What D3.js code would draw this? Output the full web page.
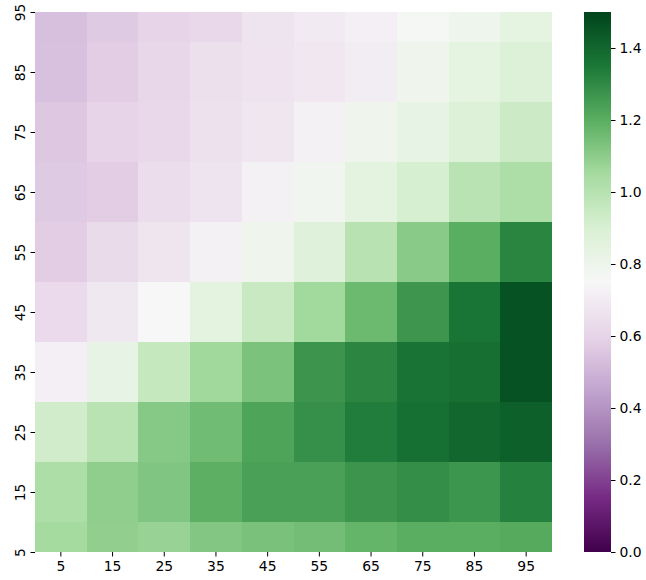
<!DOCTYPE html>
<html>
<head>
<meta charset="utf-8">
<script src="https://cdn.jsdelivr.net/npm/d3@7"></script>
<style>
  html, body { margin: 0; padding: 0; background: #fff; }
  svg { display: block; font-family: "DejaVu Sans", sans-serif; }
</style>
</head>
<body>
<svg id="chart" width="646" height="580"></svg>
<script>
// ---- data ----
const xCategories = [5, 15, 25, 35, 45, 55, 65, 75, 85, 95];
const yCategories = [95, 85, 75, 65, 55, 45, 35, 25, 15, 5];
const row95 = [0.535, 0.567, 0.600, 0.615, 0.670, 0.695, 0.716, 0.760, 0.795, 0.840];
const row85 = [0.540, 0.578, 0.613, 0.650, 0.665, 0.680, 0.707, 0.790, 0.840, 0.880];
const row75 = [0.558, 0.600, 0.615, 0.655, 0.677, 0.724, 0.790, 0.830, 0.885, 0.940];
const row65 = [0.568, 0.578, 0.639, 0.669, 0.724, 0.785, 0.845, 0.910, 0.995, 1.026];
const row55 = [0.578, 0.630, 0.673, 0.725, 0.790, 0.870, 0.998, 1.107, 1.200, 1.314];
const row45 = [0.625, 0.686, 0.750, 0.845, 0.947, 1.058, 1.164, 1.269, 1.360, 1.460];
const row35 = [0.716, 0.830, 0.960, 1.060, 1.135, 1.270, 1.310, 1.365, 1.375, 1.460];
const row25 = [0.927, 0.990, 1.113, 1.155, 1.229, 1.284, 1.335, 1.372, 1.400, 1.420];
const row15 = [1.030, 1.093, 1.125, 1.195, 1.238, 1.240, 1.270, 1.290, 1.268, 1.326];
const row5  = [1.050, 1.090, 1.077, 1.120, 1.137, 1.150, 1.180, 1.200, 1.200, 1.210];
const rows = [row95, row85, row75, row65, row55, row45, row35, row25, row15, row5];
const colorbarTicks = [0.0, 0.2, 0.4, 0.6, 0.8, 1.0, 1.2, 1.4];
const vMin = 0, vMax = 1.5;
// PRGn diverging palette (ColorBrewer 11-class), linearly interpolated
const prgnColors = ["#40004b", "#762a83", "#9970ab", "#c2a5cf", "#e7d4e8", "#f7f7f7",
                    "#d9f0d3", "#a6dba0", "#5aae61", "#1b7837", "#00441b"];

// ---- layout ----
const svg = d3.select("#chart");
const plot = { left: 35, right: 552, top: 12, bottom: 552 };
const cb = { left: 584, right: 611, top: 12, bottom: 552 };

const x = d3.scaleBand().domain(xCategories).range([plot.left, plot.right]).padding(0);
const y = d3.scaleLinear().domain([5, 95]).range([plot.bottom, plot.top]);
const color = d3.scaleLinear()
  .domain(prgnColors.map((c, i) => vMin + (vMax - vMin) * i / (prgnColors.length - 1)))
  .range(prgnColors)
  .interpolate(d3.interpolateRgb)
  .clamp(true);

const cells = [];
yCategories.forEach((yv, i) => {
  xCategories.forEach((xv, j) => cells.push({ x: xv, y: yv, v: rows[i][j] }));
});

svg.append("clipPath").attr("id", "plotclip")
  .append("rect")
  .attr("x", plot.left).attr("y", plot.top)
  .attr("width", plot.right - plot.left).attr("height", plot.bottom - plot.top);

svg.append("g").attr("clip-path", "url(#plotclip)")
  .selectAll("rect").data(cells).join("rect")
  .attr("x", d => x(d.x))
  .attr("width", x.bandwidth() + 0.5)
  .attr("y", d => y(d.y + 5))
  .attr("height", d => y(d.y - 5) - y(d.y + 5) + 0.5)
  .attr("fill", d => color(d.v))
  .attr("shape-rendering", "crispEdges");

// x axis
const xAxis = svg.append("g")
  .attr("transform", `translate(0,${plot.bottom})`)
  .call(d3.axisBottom(x).tickSize(4.5).tickPadding(5));
xAxis.select(".domain").remove();
xAxis.selectAll("text").attr("font-size", 13.9).attr("font-family", "DejaVu Sans").attr("fill", "#000");
xAxis.selectAll("line").attr("stroke", "#000").attr("stroke-width", 1);

// y axis
const yAxis = svg.append("g")
  .attr("transform", `translate(${plot.left},0)`)
  .call(d3.axisLeft(y).tickValues(yCategories).tickFormat(d3.format("d")).tickSize(4.5).tickPadding(5));
yAxis.select(".domain").remove();
yAxis.selectAll("line").attr("stroke", "#000").attr("stroke-width", 1);
yAxis.selectAll("text")
  .attr("font-size", 13.9).attr("font-family", "DejaVu Sans").attr("fill", "#000")
  .attr("x", null).attr("dy", null)
  .attr("text-anchor", "middle")
  .attr("dominant-baseline", "auto")
  .attr("transform", "translate(-10,0) rotate(-90)");

// colorbar
const cbScale = d3.scaleLinear().domain([vMin, vMax]).range([cb.bottom, cb.top]);
const defs = svg.append("defs");
const grad = defs.append("linearGradient").attr("id", "cbgrad")
  .attr("x1", 0).attr("y1", 1).attr("x2", 0).attr("y2", 0);
d3.range(0, 1.0001, 0.02).forEach(t => {
  grad.append("stop").attr("offset", t).attr("stop-color", color(vMin + t * (vMax - vMin)));
});
svg.append("rect")
  .attr("x", cb.left).attr("y", cb.top)
  .attr("width", cb.right - cb.left).attr("height", cb.bottom - cb.top)
  .attr("fill", "url(#cbgrad)");

const cbAxis = svg.append("g")
  .attr("transform", `translate(${cb.right},0)`)
  .call(d3.axisRight(cbScale).tickValues(colorbarTicks).tickFormat(d3.format(".1f")).tickSize(4.5).tickPadding(4));
cbAxis.select(".domain").remove();
cbAxis.selectAll("line").attr("stroke", "#000").attr("stroke-width", 1);
cbAxis.selectAll("text").attr("font-size", 13.9).attr("font-family", "DejaVu Sans").attr("fill", "#000");
</script>
</body>
</html>
